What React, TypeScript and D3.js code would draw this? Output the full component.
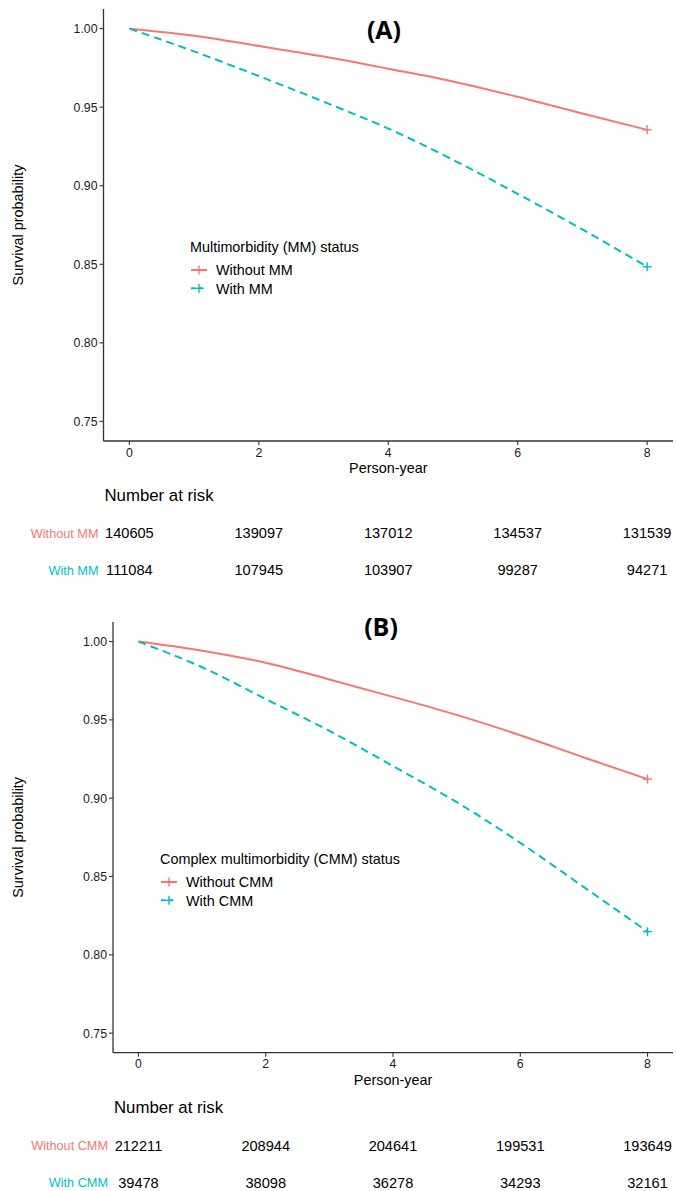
import React from "react";
import * as d3 from "d3";

const years = [0, 1, 2, 3, 4, 5, 6, 7, 8];
const survAWithout = [1, 0.9955, 0.989, 0.9822, 0.9745, 0.9664, 0.9566, 0.946, 0.9356];
const survAWith = [1, 0.9855, 0.9698, 0.9535, 0.9364, 0.9165, 0.8948, 0.8722, 0.8484];
const survBWithout = [1, 0.9942, 0.9865, 0.9758, 0.9647, 0.9532, 0.9402, 0.926, 0.9122];
const survBWith = [1, 0.9836, 0.9633, 0.943, 0.9205, 0.8975, 0.8715, 0.8432, 0.8148];

const xTicks = [0, 2, 4, 6, 8];
const yTicks = [0.75, 0.8, 0.85, 0.9, 0.95, 1.0];
const riskYears = [0, 2, 4, 6, 8];
const riskAWithout = [140605, 139097, 137012, 134537, 131539];
const riskAWith = [111084, 107945, 103907, 99287, 94271];
const riskBWithout = [212211, 208944, 204641, 199531, 193649];
const riskBWith = [39478, 38098, 36278, 34293, 32161];

const labelsA = ["Without MM", "With MM"];
const labelsB = ["Without CMM", "With CMM"];
const legendTitleA = "Multimorbidity (MM) status";
const legendTitleB = "Complex multimorbidity (CMM) status";

const RED = "#F8766D";
const CYAN = "#00BFC4";
const FONT = "'Liberation Sans', Arial, sans-serif";
const AXIS = "#333333";

type PanelProps = {
  tag: string;
  tagX: number;
  tagY: number;
  left: number;
  right: number;
  top: number;
  bottom: number;
  without: number[];
  withv: number[];
  labels: string[];
  legendTitle: string;
  legendX: number;
  legendY: number;
  riskWithout: number[];
  riskWith: number[];
  riskTitleY: number;
  riskRow1Y: number;
  riskRow2Y: number;
};

function Plus({ x, y, color }: { x: number; y: number; color: string }) {
  const s = 4.5;
  return (
    <g stroke={color} strokeWidth={1.4}>
      <line x1={x - s} x2={x + s} y1={y} y2={y} />
      <line x1={x} x2={x} y1={y - s} y2={y + s} />
    </g>
  );
}

function Panel(p: PanelProps) {
  const x = d3.scaleLinear().domain([-0.4, 8.4]).range([p.left, p.right]);
  const y = d3.scaleLinear().domain([0.7375, 1.0125]).range([p.bottom, p.top]);
  const line = d3
    .line<number>()
    .x((_, i) => x(years[i]))
    .y((d) => y(d))
    .curve(d3.curveMonotoneX);
  const lastI = years.length - 1;
  const midX = (p.left + p.right) / 2;
  const midY = (p.top + p.bottom) / 2;
  return (
    <g fontFamily={FONT}>
      <path d={line(p.without) || ""} fill="none" stroke={RED} strokeWidth={2} />
      <path d={line(p.withv) || ""} fill="none" stroke={CYAN} strokeWidth={2} strokeDasharray="8,5" />
      <Plus x={x(years[lastI])} y={y(p.without[lastI])} color={RED} />
      <Plus x={x(years[lastI])} y={y(p.withv[lastI])} color={CYAN} />

      <line x1={p.left} x2={p.left} y1={p.top} y2={p.bottom} stroke={AXIS} strokeWidth={1.3} />
      <line x1={p.left} x2={p.right} y1={p.bottom} y2={p.bottom} stroke={AXIS} strokeWidth={1.3} />
      {yTicks.map((t) => (
        <g key={"y" + t}>
          <line x1={p.left - 4} x2={p.left} y1={y(t)} y2={y(t)} stroke={AXIS} strokeWidth={1.1} />
          <text x={p.left - 6} y={y(t) + 4.4} textAnchor="end" fontSize={12.3} fill="#1a1a1a">
            {t.toFixed(2)}
          </text>
        </g>
      ))}
      {xTicks.map((t) => (
        <g key={"x" + t}>
          <line x1={x(t)} x2={x(t)} y1={p.bottom} y2={p.bottom + 4} stroke={AXIS} strokeWidth={1.1} />
          <text x={x(t)} y={p.bottom + 15.5} textAnchor="middle" fontSize={12.3} fill="#1a1a1a">
            {t}
          </text>
        </g>
      ))}
      <text x={midX} y={p.bottom + 32} textAnchor="middle" fontSize={14.4} fill="#000">
        Person-year
      </text>
      <text
        transform={`translate(23,${midY}) rotate(-90)`}
        textAnchor="middle"
        fontSize={14.4}
        fill="#000"
      >
        Survival probability
      </text>

      <text x={p.tagX} y={p.tagY} textAnchor="middle" fontSize={25} fontWeight={700} fontFamily="'Open Sans', sans-serif" fill="#000">
        {p.tag}
      </text>

      <text x={p.legendX} y={p.legendY + 5} fontSize={14.4} fill="#000">
        {p.legendTitle}
      </text>
      {[0, 1].map((i) => {
        const ly = p.legendY + 23 + i * 18.3;
        const color = i === 0 ? RED : CYAN;
        return (
          <g key={"lg" + i}>
            <line
              x1={p.legendX + 1}
              x2={p.legendX + 17}
              y1={ly}
              y2={ly}
              stroke={color}
              strokeWidth={2}
              strokeDasharray={i === 0 ? undefined : "4,4"}
            />
            <Plus x={p.legendX + 9} y={ly} color={color} />
            <text x={p.legendX + 26} y={ly + 5.2} fontSize={14.4} fill="#000">
              {p.labels[i]}
            </text>
          </g>
        );
      })}

      <text x={p.left + 1} y={p.riskTitleY + 6} fontSize={16.8} fill="#000">
        Number at risk
      </text>
      {[0, 1].map((r) => {
        const ry = r === 0 ? p.riskRow1Y : p.riskRow2Y;
        const vals = r === 0 ? p.riskWithout : p.riskWith;
        const color = r === 0 ? RED : CYAN;
        return (
          <g key={"rk" + r}>
            <text x={p.left - 5} y={ry + 4.6} textAnchor="end" fontSize={12.7} fill={color}>
              {p.labels[r]}
            </text>
            {riskYears.map((t, j) => (
              <text key={j} x={x(t)} y={ry + 5.3} textAnchor="middle" fontSize={14.6} fill="#000">
                {vals[j]}
              </text>
            ))}
          </g>
        );
      })}
    </g>
  );
}

export default function App() {
  return (
    <svg width={676} height={1191} style={{ position: "absolute", left: 0, top: 0, background: "#fff" }}>
      <rect width={676} height={1191} fill="#fff" />
      <Panel
        tag="(A)"
        tagX={384}
        tagY={39}
        left={103.5}
        right={673}
        top={9}
        bottom={441}
        without={survAWithout}
        withv={survAWith}
        labels={labelsA}
        legendTitle={legendTitleA}
        legendX={190}
        legendY={247}
        riskWithout={riskAWithout}
        riskWith={riskAWith}
        riskTitleY={495}
        riskRow1Y={533}
        riskRow2Y={570}
      />
      <Panel
        tag="(B)"
        tagX={381}
        tagY={636}
        left={113}
        right={673}
        top={622}
        bottom={1052.7}
        without={survBWithout}
        withv={survBWith}
        labels={labelsB}
        legendTitle={legendTitleB}
        legendX={160}
        legendY={859}
        riskWithout={riskBWithout}
        riskWith={riskBWith}
        riskTitleY={1107}
        riskRow1Y={1145.7}
        riskRow2Y={1182.7}
      />
    </svg>
  );
}
